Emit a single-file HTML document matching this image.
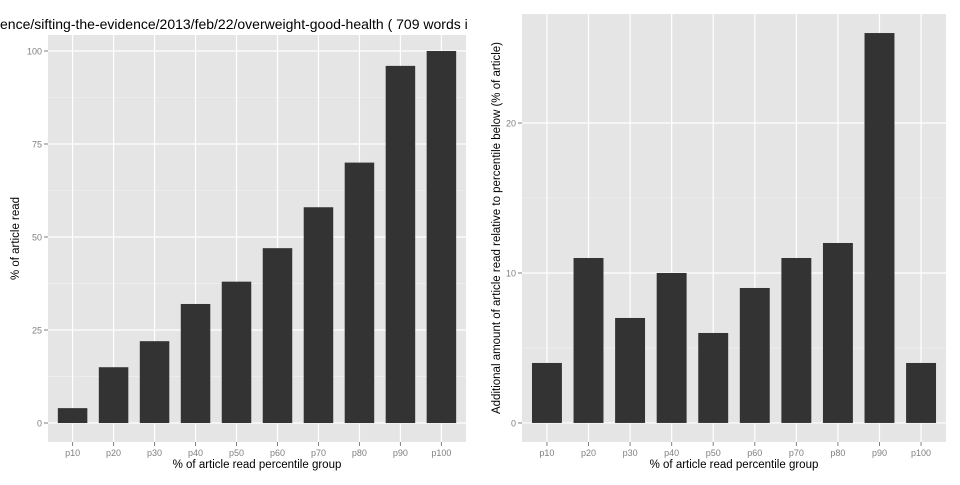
<!DOCTYPE html>
<html><head><meta charset="utf-8"><style>
body{margin:0;background:#fff;width:960px;height:480px;overflow:hidden;font-family:"Liberation Sans",sans-serif}
</style></head><body>
<svg id="c" width="960" height="480" xmlns="http://www.w3.org/2000/svg">
<text x="0" y="29" font-size="14" fill="#000">ence/sifting-the-evidence/2013/feb/22/overweight-good-health ( 709 words i</text>
</svg>
<script>
const categories=["p10","p20","p30","p40","p50","p60","p70","p80","p90","p100"];
const leftValues=[4,15,22,32,38,47,58,70,96,100];
const rightValues=[4,11,7,10,6,9,11,12,26,4];
const leftTicks=[0,25,50,75,100];
const rightTicks=[0,10,20];
const svg=document.getElementById('c');
const NS='http://www.w3.org/2000/svg';
function mk(t,a,txt){const e=document.createElementNS(NS,t);for(const k in a)e.setAttribute(k,a[k]);if(txt!=null)e.textContent=txt;svg.appendChild(e);return e;}
function panel(p){
  const {x0,x1,y0,y1,ymin,ymax,vals,ticks,ylabel,name}=p;
  const ys=v=>y1-(v-ymin)/(ymax-ymin)*(y1-y0);
  const n=categories.length, step=(x1-x0)/(n+0.2);
  const xs=i=>x0+step*(i+0.6);
  const bg=mk('rect',{x:x0,y:y0,width:x1-x0,height:y1-y0,fill:'#e5e5e5'});
  
  
  for(let i=0;i<ticks.length-1;i++){const m=(ticks[i]+ticks[i+1])/2;mk('line',{x1:x0,x2:x1,y1:ys(m),y2:ys(m),stroke:'#f2f2f2','stroke-width':0.6});}
  ticks.forEach(t=>{
    mk('line',{x1:x0,x2:x1,y1:ys(t),y2:ys(t),stroke:'#fff','stroke-width':1.2});
    mk('line',{x1:x0-4,x2:x0,y1:ys(t),y2:ys(t),stroke:'#7f7f7f'});
    const l=mk('text',{x:x0-6,y:ys(t)+3.5,'font-size':9,fill:'#7f7f7f','text-anchor':'end'},t);
    
    
  });
  categories.forEach((c,i)=>{
    mk('line',{x1:xs(i),x2:xs(i),y1:y0,y2:y1,stroke:'#fff','stroke-width':1.2});
  });
  categories.forEach((c,i)=>{
    const bw=step*0.72;
    const b=mk('rect',{x:xs(i)-bw/2,y:ys(vals[i]),width:bw,height:ys(0)-ys(vals[i]),fill:'#333'});
    
    
    mk('line',{x1:xs(i),x2:xs(i),y1:y1,y2:y1+4,stroke:'#7f7f7f'});
    const l=mk('text',{x:xs(i),y:y1+14,'font-size':9,fill:'#7f7f7f','text-anchor':'middle'},c);
    
    
  });
  const xt=mk('text',{x:(x0+x1)/2,y:y1+26,'font-size':11.5,fill:'#000','text-anchor':'middle'},'% of article read percentile group');
  
  
  const cy=(y0+y1)/2;
  const yt=mk('text',{x:p.ylx,y:cy,'font-size':11.5,fill:'#000','text-anchor':'middle',transform:`rotate(-90 ${p.ylx} ${cy})`},ylabel);
  
  
}
panel({x0:48,x1:466,y0:35,y1:442,ymin:-5.1,ymax:104.3,vals:leftValues,ticks:leftTicks,ylabel:'% of article read',ylx:19,name:'left'});
panel({x0:522,x1:946,y0:14,y1:442,ymin:-1.27,ymax:27.27,vals:rightValues,ticks:rightTicks,ylabel:'Additional amount of article read relative to percentile below (% of article)',ylx:500,name:'right'});
</script>
</body></html>
